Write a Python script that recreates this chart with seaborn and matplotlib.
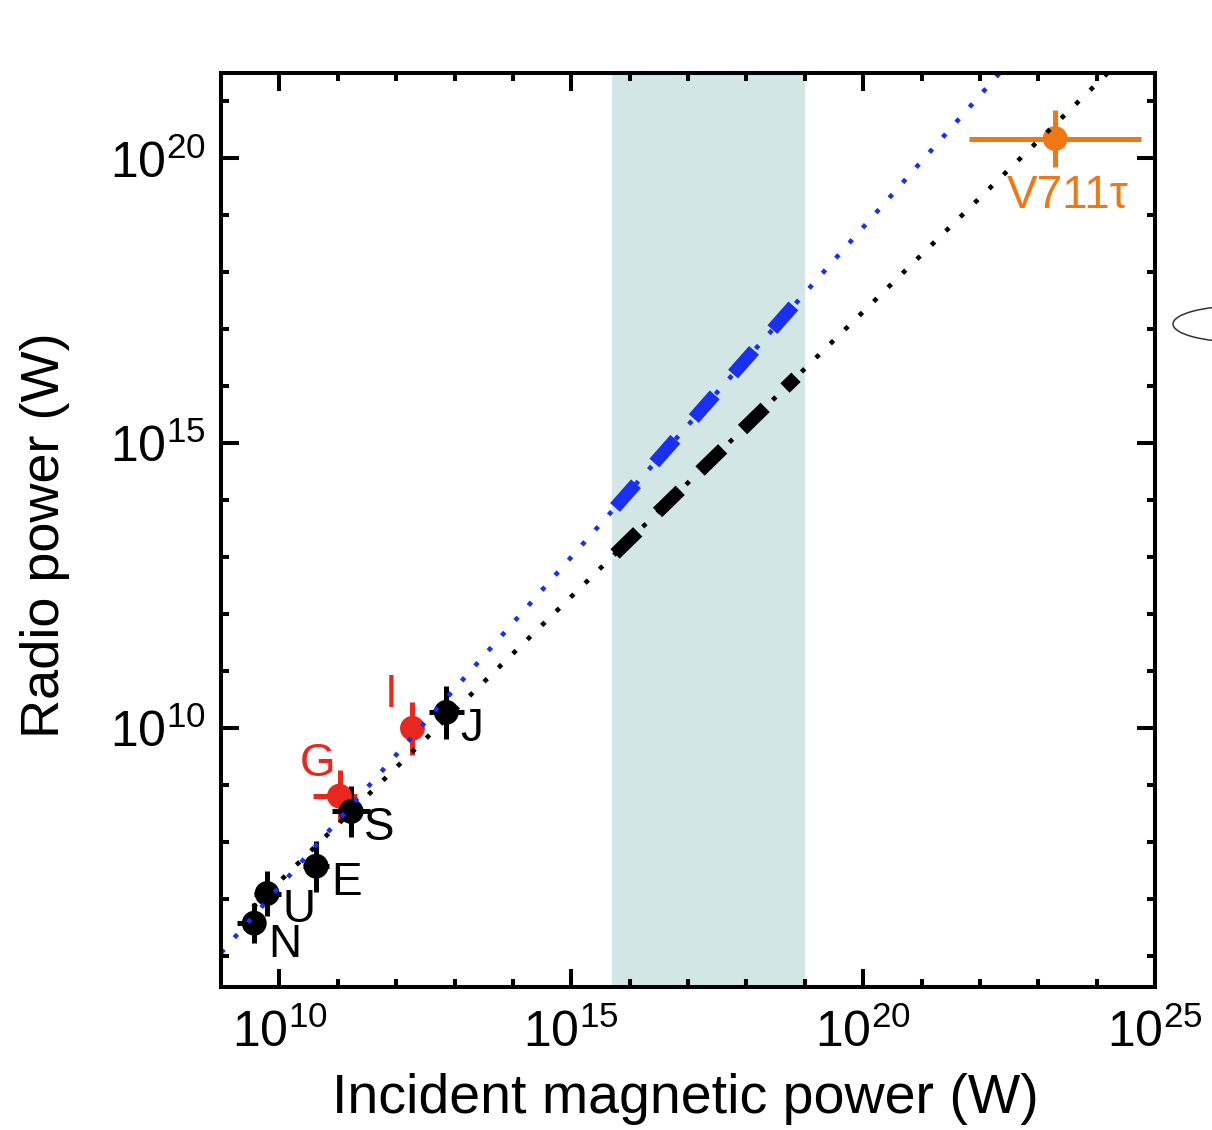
import numpy as np
import pandas as pd
import matplotlib
matplotlib.use("Agg")
import matplotlib.pyplot as plt
from matplotlib.patches import Ellipse
from matplotlib.ticker import FixedLocator, FuncFormatter, NullFormatter
import seaborn as sns

# ---- data (log10 of powers in W) ----
names = ["N", "U", "E", "S", "G", "I", "J", "V711τ"]
log_p_in = [9.57, 9.79, 10.63, 11.23, 11.03, 12.28, 12.86, 23.29]
log_p_radio = [6.58, 7.10, 7.58, 8.54, 8.81, 10.00, 10.28, 20.35]
xerr_lo = [0.30, 0.23, 0.22, 0.32, 0.45, 0.12, 0.30, 1.48]
xerr_hi = [0.18, 0.23, 0.22, 0.32, 0.30, 0.12, 0.30, 1.47]
yerr_dec = [0.35, 0.40, 0.45, 0.45, 0.46, 0.47, 0.47, 0.50]
groups = ["planet", "planet", "planet", "planet", "moon", "moon", "planet", "star"]

# label anchor positions (log10)
lab_x = [10.10, 10.33, 11.15, 11.71, 10.65, 11.92, 13.29, 23.51]
lab_y = [6.20, 6.82, 7.28, 8.25, 9.37, 10.58, 9.98, 19.35]

# scaling laws: end points (log10 x, log10 y)
black_law_x = [9.55, 24.20]
black_law_y = [6.86, 21.51]
blue_law_x = [9.00, 22.34]
blue_law_y = [6.06, 21.50]
# extrapolated range (thick segments)
black_seg_x = [15.75, 18.85]
black_seg_y = [13.06, 16.16]
blue_seg_x = [15.75, 18.85]
blue_seg_y = [13.875, 17.465]

band_lo, band_hi = 5e15, 1e19

x_major = [1e10, 1e15, 1e20, 1e25]
y_major = [1e10, 1e15, 1e20]
x_minor = [10.0 ** k for k in range(9, 26)]
y_minor = [10.0 ** k for k in range(6, 22)]

colors = {"planet": "black", "moon": "#e8281e", "star": "#f07814"}
BLUE = "#1a30f0"

sns.set_theme(style="ticks")
plt.rcParams["font.family"] = ["Liberation Sans", "DejaVu Sans"]
plt.rcParams["mathtext.fontset"] = "custom"
plt.rcParams["mathtext.rm"] = "Liberation Sans"
plt.rcParams["mathtext.it"] = "Liberation Sans:italic"
plt.rcParams["text.color"] = "black"
plt.rcParams["axes.labelcolor"] = "black"

df = pd.DataFrame({
    "name": names,
    "x": np.power(10.0, log_p_in),
    "y": np.power(10.0, log_p_radio),
    "group": groups,
})
df["xlo"] = df["x"] - np.power(10.0, np.array(log_p_in) - np.array(xerr_lo))
df["xhi"] = np.power(10.0, np.array(log_p_in) + np.array(xerr_hi)) - df["x"]
df["ylo"] = df["y"] - np.power(10.0, np.array(log_p_radio) - np.array(yerr_dec))
df["yhi"] = np.power(10.0, np.array(log_p_radio) + np.array(yerr_dec)) - df["y"]

fig = plt.figure(figsize=(12.12, 11.3), dpi=100)
ax = fig.add_axes([221 / 1212, 1 - 987 / 1130, 934 / 1212, 914 / 1130])
ax.set_xscale("log")
ax.set_yscale("log")
ax.set_xlim(1e9, 1e25)
ax.set_ylim(10 ** 5.46, 10 ** 21.5)

ax.axvspan(band_lo, band_hi, color="#d2e6e6", lw=0, zorder=0)

# error bars and markers
for grp in ["moon", "planet", "star"]:
    sub = df[df["group"] == grp]
    ax.errorbar(sub["x"], sub["y"],
                xerr=[sub["xlo"], sub["xhi"]], yerr=[sub["ylo"], sub["yhi"]],
                fmt="none", ecolor=colors[grp], elinewidth=3.6, capsize=0, zorder=3)
    sns.scatterplot(data=sub, x="x", y="y", color=colors[grp], s=320,
                    edgecolor="none", ax=ax, zorder=4, legend=False)

# scaling law lines
laws = pd.DataFrame({
    "x": np.power(10.0, black_law_x + blue_law_x),
    "y": np.power(10.0, black_law_y + blue_law_y),
    "law": ["black"] * 2 + ["blue"] * 2,
})
for law, col in [("black", "black"), ("blue", BLUE)]:
    sns.lineplot(data=laws[laws["law"] == law], x="x", y="y", color=col,
                 lw=3.3, linestyle=(0, (1, 3.4)), dash_capstyle="butt",
                 ax=ax, zorder=5, legend=False)

segs = pd.DataFrame({
    "x": np.power(10.0, black_seg_x + blue_seg_x),
    "y": np.power(10.0, black_seg_y + blue_seg_y),
    "law": ["black"] * 2 + ["blue"] * 2,
})
for law, col in [("black", "black"), ("blue", BLUE)]:
    sns.lineplot(data=segs[segs["law"] == law], x="x", y="y", color=col,
                 lw=9.5, linestyle=(0, (2.4, 2.1)), dash_capstyle="butt",
                 ax=ax, zorder=6, legend=False)

# labels next to the points
for nm, lx, ly, grp in zip(names, lab_x, lab_y, groups):
    ax.text(10 ** lx, 10 ** ly, nm, color=colors[grp], fontsize=33,
            ha="center", va="center", zorder=7)

# axes styling
for sp in ax.spines.values():
    sp.set_linewidth(2.9)
    sp.set_color("black")
    sp.set_zorder(8)
ax.xaxis.set_major_locator(FixedLocator(x_major))
ax.xaxis.set_minor_locator(FixedLocator(x_minor))
ax.yaxis.set_major_locator(FixedLocator(y_major))
ax.yaxis.set_minor_locator(FixedLocator(y_minor))
fmt = FuncFormatter(lambda v, p: r"$\mathregular{10^{%d}}$" % round(np.log10(v)))
ax.xaxis.set_major_formatter(fmt)
ax.yaxis.set_major_formatter(fmt)
ax.xaxis.set_minor_formatter(NullFormatter())
ax.yaxis.set_minor_formatter(NullFormatter())
ax.tick_params(which="both", direction="in", top=True, right=True,
               width=2.9, color="black", labelcolor="black")
ax.tick_params(which="major", length=13, labelsize=36)
ax.tick_params(which="minor", length=6)
ax.tick_params(axis="x", which="major", pad=16)
ax.tick_params(axis="y", which="major", pad=11)

ax.set_xlabel("Incident magnetic power (W)", fontsize=40, color="black")
ax.set_ylabel("Radio power (W)", fontsize=39, color="black")
ax.xaxis.set_label_coords(0.497, -0.094)
ax.yaxis.set_label_coords(-0.162, 0.494)
ax.grid(False)

# small ellipse at the right margin
ell = Ellipse((1240 / 1212, 1 - 324 / 1130), 134 / 1212, 36 / 1130,
              transform=fig.transFigure, fill=False, edgecolor="#333333",
              lw=1.1, clip_on=False)
fig.patches.append(ell)

fig.savefig("out.png", dpi=100, facecolor="white")
